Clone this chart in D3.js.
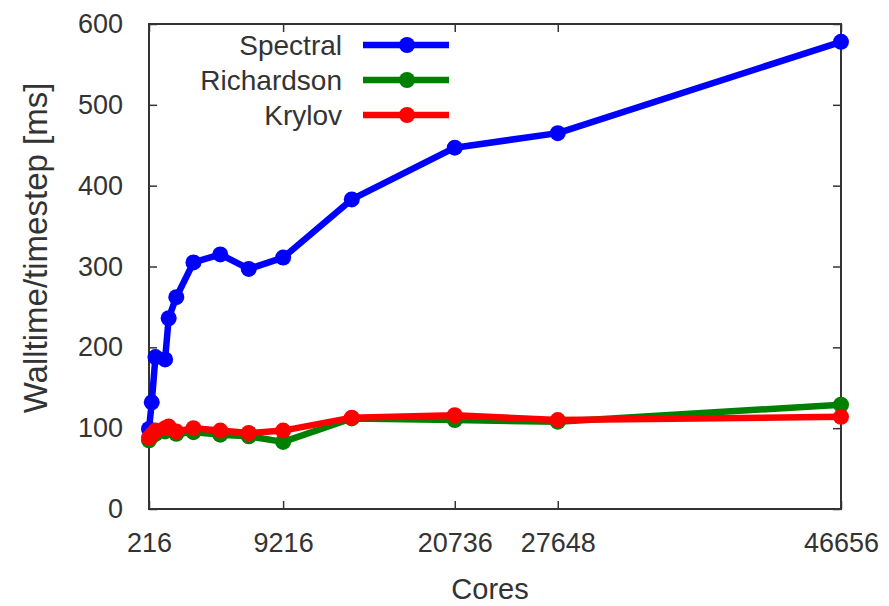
<!DOCTYPE html>
<html>
<head>
<meta charset="utf-8">
<script src="https://cdn.jsdelivr.net/npm/d3@7"></script>
<style>
  html, body { margin: 0; padding: 0; background: #fff; }
  svg { display: block; font-family: "Liberation Sans", Arial, sans-serif; }
</style>
</head>
<body>
<div id="chart"></div>
<script>
// data
const cores = [216, 400, 648, 1296, 1536, 2048, 3200, 5000, 6912, 9216, 13824, 20736, 27648, 46656];
const spectral = [99, 132, 188, 185, 236, 262, 305, 315, 297, 311, 383, 447, 465, 578];
const richardson = [85, 90, 93, 96, 98, 93, 95, 92, 90, 83, 112, 110, 108, 129];
const krylov = [88, 92, 97, 100, 102, 96, 100, 97, 94, 97, 113, 116, 110, 114];

const xTicks = [216, 9216, 20736, 27648, 46656];
const yTicks = [0, 100, 200, 300, 400, 500, 600];

const seriesNames = ["Spectral", "Richardson", "Krylov"];
const seriesColors = ["#0000ff", "#008000", "#ff0000"];
const seriesValues = [spectral, richardson, krylov];

(function () {
  const W = 889, H = 606;
  const margin = { top: 24, right: 48, bottom: 97, left: 149 };
  const width = W - margin.left - margin.right,
        height = H - margin.top - margin.bottom;

  const svg = d3.select("#chart").append("svg")
    .attr("width", W)
    .attr("height", H);

  svg.append("rect").attr("width", W).attr("height", H).attr("fill", "#fff");

  const g = svg.append("g")
    .attr("transform", `translate(${margin.left},${margin.top})`);

  const x = d3.scaleLinear().domain([216, 46656]).range([0, width]);
  const y = d3.scaleLinear().domain([0, 600]).range([height, 0]);

  const axisColor = "#333";

  // bottom axis with labels, ticks pointing inward
  const xAxis = g.append("g")
    .attr("transform", `translate(0,${height})`)
    .call(d3.axisBottom(x).tickValues(xTicks).tickSize(-8).tickPadding(24).tickFormat(d3.format("d")));
  // top mirror ticks
  const xAxisTop = g.append("g")
    .call(d3.axisTop(x).tickValues(xTicks).tickSize(-8).tickFormat(""));
  // left axis
  const yAxis = g.append("g")
    .call(d3.axisLeft(y).tickValues(yTicks).tickSize(-8).tickPadding(26));
  // right mirror ticks
  const yAxisRight = g.append("g")
    .attr("transform", `translate(${width},0)`)
    .call(d3.axisRight(y).tickValues(yTicks).tickSize(-8).tickFormat(""));

  [xAxis, xAxisTop, yAxis, yAxisRight].forEach(a => {
    a.select(".domain").remove();
    a.selectAll("line").attr("stroke", axisColor).attr("stroke-width", 1.5);
    a.selectAll("text")
      .attr("fill", "#333")
      .style("font-size", "27px")
      .style("font-family", "'Liberation Sans', Arial, sans-serif");
  });

  // frame
  g.append("rect")
    .attr("width", width)
    .attr("height", height)
    .attr("fill", "none")
    .attr("stroke", axisColor)
    .attr("stroke-width", 2);

  // axis titles
  svg.append("text")
    .attr("x", 490)
    .attr("y", 599)
    .attr("text-anchor", "middle")
    .attr("fill", "#333")
    .style("font-size", "29px")
    .text("Cores");

  svg.append("text")
    .attr("transform", "translate(47,248) rotate(-90)")
    .attr("text-anchor", "middle")
    .attr("fill", "#333")
    .style("font-size", "33px")
    .text("Walltime/timestep [ms]");

  const line = d3.line()
    .x(d => x(d[0]))
    .y(d => y(d[1]));

  seriesValues.forEach((vals, i) => {
    const pts = cores.map((c, j) => [c, vals[j]]);
    g.append("path")
      .datum(pts)
      .attr("fill", "none")
      .attr("stroke", seriesColors[i])
      .attr("stroke-width", 6.5)
      .attr("stroke-linejoin", "round")
      .attr("d", line);

    g.selectAll(`.dot-${i}`)
      .data(pts)
      .enter()
      .append("circle")
      .attr("class", `dot-${i}`)
      .attr("cx", d => x(d[0]))
      .attr("cy", d => y(d[1]))
      .attr("r", 8)
      .attr("fill", seriesColors[i]);
  });

  // legend, top left inside the frame
  const legend = svg.append("g");
  seriesNames.forEach((name, i) => {
    const ly = 45 + i * 35;
    legend.append("text")
      .attr("x", 342)
      .attr("y", ly)
      .attr("dy", "0.35em")
      .attr("text-anchor", "end")
      .attr("fill", "#333")
      .style("font-size", "28px")
      .text(name);
    legend.append("line")
      .attr("x1", 363).attr("x2", 449)
      .attr("y1", ly).attr("y2", ly)
      .attr("stroke", seriesColors[i])
      .attr("stroke-width", 6.5);
    legend.append("circle")
      .attr("cx", 407)
      .attr("cy", ly)
      .attr("r", 8)
      .attr("fill", seriesColors[i]);
  });
})();
</script>
</body>
</html>
